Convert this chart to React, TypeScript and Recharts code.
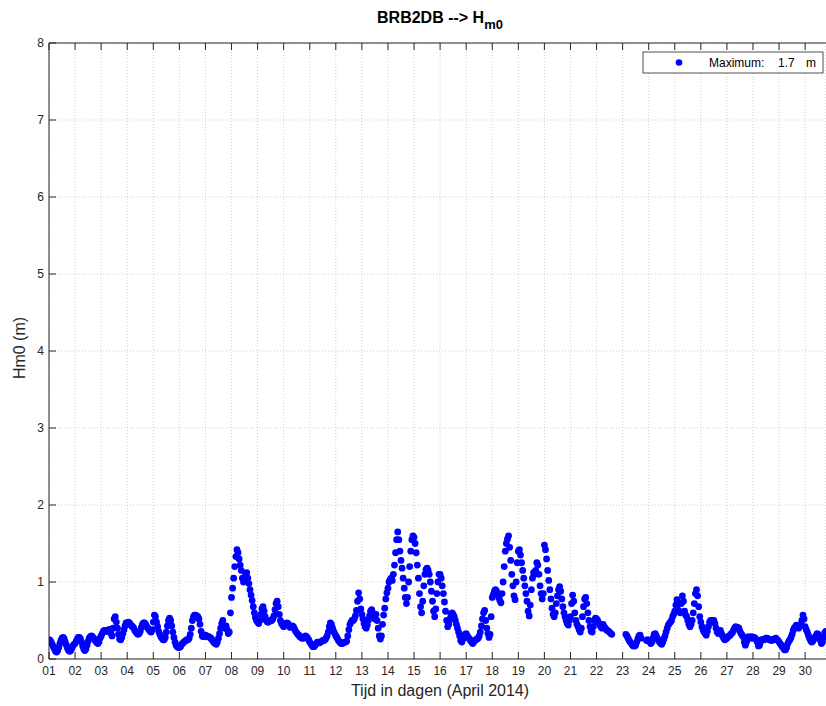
import { ScatterChart, Scatter, XAxis, YAxis, CartesianGrid } from 'recharts';

// Hm0 (m), hourly readings per day (h00..h23), April 2014, station BRB2DB
const day01 = [0.25, 0.24, 0.22, 0.19, 0.16, 0.13, 0.1, 0.09, 0.11, 0.15, 0.2, 0.24, 0.27, 0.28, 0.26, 0.22, 0.18, 0.14, 0.11, 0.1, 0.11, 0.14, 0.17, 0.19];
const day02 = [0.2, 0.23, 0.26, 0.28, 0.28, 0.26, 0.22, 0.17, 0.13, 0.11, 0.13, 0.18, 0.23, 0.27, 0.29, 0.3, 0.29, 0.27, 0.25, 0.23, 0.21, 0.2, 0.22, 0.27];
const day03 = [0.3, 0.33, 0.36, 0.37, 0.37, 0.36, 0.36, 0.38, 0.38, 0.33, 0.3, 0.4, 0.52, 0.55, 0.48, 0.4, 0.32, 0.26, 0.25, 0.28, 0.33, 0.38, 0.43, 0.47];
const day04 = [0.47, 0.48, 0.47, 0.45, 0.43, 0.42, 0.4, 0.37, 0.35, 0.33, 0.32, 0.33, 0.36, 0.41, 0.45, 0.47, 0.47, 0.45, 0.42, 0.4, 0.38, 0.36, 0.35, 0.38];
const day05 = [0.48, 0.57, 0.55, 0.48, 0.42, 0.36, 0.32, 0.29, 0.27, 0.25, 0.25, 0.28, 0.35, 0.43, 0.5, 0.53, 0.5, 0.43, 0.35, 0.28, 0.22, 0.18, 0.16, 0.15];
const day06 = [0.15, 0.16, 0.19, 0.2, 0.22, 0.23, 0.24, 0.25, 0.25, 0.27, 0.32, 0.4, 0.5, 0.55, 0.57, 0.57, 0.56, 0.55, 0.52, 0.45, 0.36, 0.3, 0.29, 0.3];
const day07 = [0.31, 0.3, 0.29, 0.29, 0.28, 0.27, 0.25, 0.23, 0.21, 0.2, 0.19, 0.22, 0.27, 0.33, 0.4, 0.46, 0.5, 0.42, 0.4, 0.43, 0.38, 0.33, 0.35, 0.6];
const day08 = [0.8, 0.92, 1.05, 1.2, 1.33, 1.42, 1.38, 1.3, 1.22, 1.15, 1.05, 1.0, 1.02, 1.1, 1.12, 1.05, 0.98, 0.9, 0.83, 0.76, 0.68, 0.6, 0.54, 0.5];
const day09 = [0.48, 0.46, 0.5, 0.58, 0.65, 0.68, 0.62, 0.55, 0.5, 0.48, 0.48, 0.49, 0.5, 0.5, 0.52, 0.56, 0.64, 0.72, 0.75, 0.68, 0.58, 0.5, 0.46, 0.44];
const day10 = [0.42, 0.44, 0.46, 0.47, 0.46, 0.43, 0.41, 0.42, 0.43, 0.42, 0.39, 0.36, 0.34, 0.32, 0.31, 0.29, 0.28, 0.27, 0.27, 0.28, 0.3, 0.29, 0.27, 0.25];
const day11 = [0.22, 0.2, 0.18, 0.16, 0.16, 0.18, 0.2, 0.22, 0.22, 0.21, 0.22, 0.23, 0.24, 0.24, 0.25, 0.27, 0.3, 0.35, 0.42, 0.47, 0.45, 0.4, 0.36, 0.33];
const day12 = [0.3, 0.28, 0.25, 0.23, 0.21, 0.2, 0.2, 0.21, 0.22, 0.22, 0.23, 0.3, 0.38, 0.45, 0.48, 0.5, 0.5, 0.52, 0.56, 0.63, 0.75, 0.86, 0.78, 0.65];
const day13 = [0.58, 0.52, 0.46, 0.42, 0.4, 0.44, 0.5, 0.56, 0.62, 0.64, 0.6, 0.55, 0.52, 0.58, 0.5, 0.4, 0.3, 0.26, 0.3, 0.45, 0.57, 0.66, 0.78, 0.86];
const day14 = [0.92, 1.0, 1.03, 1.05, 1.02, 1.1, 1.22, 1.38, 1.55, 1.65, 1.55, 1.4, 1.28, 1.18, 1.05, 0.92, 0.8, 0.72, 0.8, 1.0, 1.2, 1.4, 1.55, 1.6];
const day15 = [1.58, 1.5, 1.38, 1.22, 1.05, 0.85, 0.68, 0.6, 0.75, 0.95, 1.1, 1.16, 1.18, 1.15, 1.1, 1.0, 0.88, 0.75, 0.62, 0.55, 0.65, 0.85, 1.0, 1.1];
const day16 = [1.1, 1.05, 0.95, 0.85, 0.74, 0.62, 0.5, 0.42, 0.45, 0.52, 0.58, 0.6, 0.58, 0.55, 0.5, 0.45, 0.4, 0.35, 0.3, 0.24, 0.22, 0.26, 0.3, 0.32];
const day17 = [0.33, 0.3, 0.28, 0.26, 0.24, 0.22, 0.2, 0.22, 0.24, 0.25, 0.26, 0.27, 0.3, 0.35, 0.43, 0.52, 0.6, 0.63, 0.5, 0.4, 0.33, 0.28, 0.32, 0.55];
const day18 = [0.8, 0.84, 0.88, 0.9, 0.88, 0.84, 0.8, 0.76, 0.73, 0.85, 1.0, 1.2, 1.4, 1.5, 1.56, 1.6, 1.45, 1.28, 1.1, 0.95, 0.82, 0.77, 1.0, 1.25];
const day19 = [1.4, 1.42, 1.35, 1.25, 1.15, 1.05, 0.95, 0.85, 0.75, 0.62, 0.56, 0.7, 0.9, 1.05, 1.12, 1.1, 1.15, 1.25, 1.22, 1.1, 0.95, 0.85, 0.78, 0.85];
const day20 = [1.48, 1.42, 1.3, 1.15, 1.02, 0.9, 0.78, 0.66, 0.58, 0.55, 0.6, 0.72, 0.82, 0.9, 0.94, 0.88, 0.78, 0.68, 0.6, 0.55, 0.5, 0.46, 0.44, 0.5];
const day21 = [0.55, 0.72, 0.83, 0.75, 0.6, 0.5, 0.45, 0.42, 0.38, 0.35, 0.4, 0.55, 0.68, 0.78, 0.8, 0.72, 0.6, 0.5, 0.42, 0.36, 0.35, 0.42, 0.5, 0.53];
const day22 = [0.52, 0.5, 0.47, 0.44, 0.42, 0.4, 0.45, 0.42, 0.4, 0.38, 0.37, 0.36, 0.35, 0.33, 0.32, null, null, null, null, null, null, null, null, null];
const day23 = [null, null, null, 0.32, 0.3, 0.27, 0.24, 0.22, 0.2, 0.18, 0.17, 0.17, 0.18, 0.22, 0.26, 0.3, 0.31, 0.27, null, null, null, null, 0.24, 0.25];
const day24 = [0.24, 0.22, 0.2, 0.22, 0.27, 0.32, 0.33, 0.3, 0.27, 0.24, 0.22, 0.2, 0.19, 0.22, 0.26, 0.3, 0.35, 0.4, 0.44, 0.46, 0.48, 0.5, 0.55, 0.58];
const day25 = [0.62, 0.7, 0.77, 0.7, 0.62, 0.6, 0.72, 0.82, 0.75, 0.62, 0.57, 0.55, 0.5, 0.45, 0.42, 0.45, 0.5, 0.6, 0.72, 0.85, 0.9, 0.82, 0.68, 0.55];
const day26 = [0.48, 0.42, 0.38, 0.35, 0.33, 0.31, 0.36, 0.42, 0.48, 0.5, 0.48, 0.5, 0.5, 0.46, 0.4, 0.35, 0.33, 0.36, 0.37, 0.33, 0.3, 0.27, 0.25, 0.26];
const day27 = [0.27, 0.29, 0.3, 0.31, 0.33, 0.34, 0.37, 0.4, 0.42, 0.4, 0.41, 0.4, 0.36, 0.33, 0.31, 0.29, 0.22, 0.18, 0.22, 0.26, 0.29, 0.28, 0.27, 0.29];
const day28 = [0.27, 0.28, 0.27, 0.25, 0.22, 0.17, 0.18, 0.22, 0.25, 0.25, 0.25, 0.26, 0.27, 0.27, 0.26, 0.25, 0.25, 0.24, 0.25, 0.25, 0.26, 0.27, 0.25, 0.24];
const day29 = [0.22, 0.2, 0.18, 0.16, 0.14, 0.12, 0.12, 0.15, 0.2, 0.23, 0.25, 0.28, 0.32, 0.37, 0.4, 0.42, 0.44, 0.42, 0.4, 0.43, 0.45, 0.5, 0.57, 0.52];
const day30 = [0.42, 0.38, 0.35, 0.31, 0.27, 0.24, 0.22, 0.23, 0.26, 0.28, 0.3, 0.33, 0.32, 0.29, 0.24, 0.2, 0.22, 0.28, 0.34, 0.36];

const days = [
  day01, day02, day03, day04, day05, day06, day07, day08, day09, day10,
  day11, day12, day13, day14, day15, day16, day17, day18, day19, day20,
  day21, day22, day23, day24, day25, day26, day27, day28, day29, day30,
];

const dayTicks = [1, 2, 3, 4, 5, 6, 7, 8, 9, 10, 11, 12, 13, 14, 15, 16, 17, 18, 19, 20, 21, 22, 23, 24, 25, 26, 27, 28, 29, 30];
const dayLabels = ['01', '02', '03', '04', '05', '06', '07', '08', '09', '10', '11', '12', '13', '14', '15', '16', '17', '18', '19', '20', '21', '22', '23', '24', '25', '26', '27', '28', '29', '30'];
const hm0Ticks = [0, 1, 2, 3, 4, 5, 6, 7, 8];

const points: { x: number; y: number }[] = [];
days.forEach((vals, i) => {
  vals.forEach((v, h) => {
    if (v != null) points.push({ x: i + 1 + h / 24, y: v });
  });
});

const FONT = '"Liberation Sans", Arial, Helvetica, sans-serif';
const INK = '#262626';
const BLUE = '#0000ff';

function BottomTick(props: any) {
  const { x, y, payload } = props;
  const label = dayLabels[dayTicks.indexOf(payload.value)];
  return (
    <g>
      <line x1={x} x2={x} y1={y} y2={y - 7} stroke={INK} strokeWidth={1} />
      <text x={x} y={y + 16} textAnchor="middle" fontSize={12} fill={INK} fontFamily={FONT}>
        {label}
      </text>
    </g>
  );
}

function TopTick(props: any) {
  const { x, y } = props;
  return <line x1={x} x2={x} y1={y} y2={y + 7} stroke={INK} strokeWidth={1} />;
}

function LeftTick(props: any) {
  const { x, y, payload } = props;
  return (
    <g>
      <line x1={x} x2={x + 7} y1={y} y2={y} stroke={INK} strokeWidth={1} />
      <text x={x - 5} y={y + 4} textAnchor="end" fontSize={12} fill={INK} fontFamily={FONT}>
        {payload.value}
      </text>
    </g>
  );
}

const dot = (p: any) => <circle cx={p.cx} cy={p.cy} r={3.4} fill={BLUE} />;

export default function App() {
  return (
    <div style={{ position: 'absolute', left: 0, top: 0, width: 826, height: 706, background: '#fff' }}>
      <ScatterChart width={826} height={706} margin={{ top: 42, right: 0, bottom: 46, left: 48 }}>
        <CartesianGrid stroke="#cfcfcf" strokeDasharray="1 2" />
        <XAxis
          type="number"
          dataKey="x"
          domain={[1, 30.8]}
          ticks={dayTicks}
          allowDataOverflow
          height={1}
          tickSize={0}
          tickMargin={0}
          tickLine={false}
          tick={<BottomTick />}
          axisLine={{ stroke: INK }}
        />
        <XAxis
          xAxisId="top"
          orientation="top"
          type="number"
          dataKey="x"
          domain={[1, 30.8]}
          ticks={dayTicks}
          allowDataOverflow
          height={1}
          tickSize={0}
          tickMargin={0}
          tickLine={false}
          tick={<TopTick />}
          axisLine={{ stroke: INK }}
        />
        <YAxis
          type="number"
          dataKey="y"
          domain={[0, 8]}
          ticks={hm0Ticks}
          allowDataOverflow
          width={1}
          tickSize={0}
          tickMargin={0}
          tickLine={false}
          tick={<LeftTick />}
          axisLine={{ stroke: INK }}
        />
        <Scatter data={points} fill={BLUE} shape={dot} isAnimationActive={false} />
      </ScatterChart>
      <svg width={826} height={706} style={{ position: 'absolute', left: 0, top: 0, pointerEvents: 'none' }}>
        <text x={440} y={23} textAnchor="middle" fontSize={16} fontWeight="bold" fill="#000" fontFamily={FONT}>
          BRB2DB --&gt; H
          <tspan fontSize={13} dy={6}>m0</tspan>
        </text>
        <text x={440} y={696} textAnchor="middle" fontSize={16} fill={INK} fontFamily={FONT}>
          Tijd in dagen (April 2014)
        </text>
        <text x={25} y={348} textAnchor="middle" fontSize={16} fill={INK} fontFamily={FONT} transform="rotate(-90 25 348)">
          Hm0 (m)
        </text>
        <rect x={643} y={52} width={180} height={21} fill="#fff" stroke={INK} strokeWidth={0.8} />
        <circle cx={679} cy={62.5} r={3.3} fill={BLUE} />
        <text x={709} y={67} fontSize={12} fill="#000" fontFamily={FONT}>Maximum:</text>
        <text x={778} y={67} fontSize={12} fill="#000" fontFamily={FONT}>1.7</text>
        <text x={806} y={67} fontSize={12} fill="#000" fontFamily={FONT}>m</text>
      </svg>
    </div>
  );
}
